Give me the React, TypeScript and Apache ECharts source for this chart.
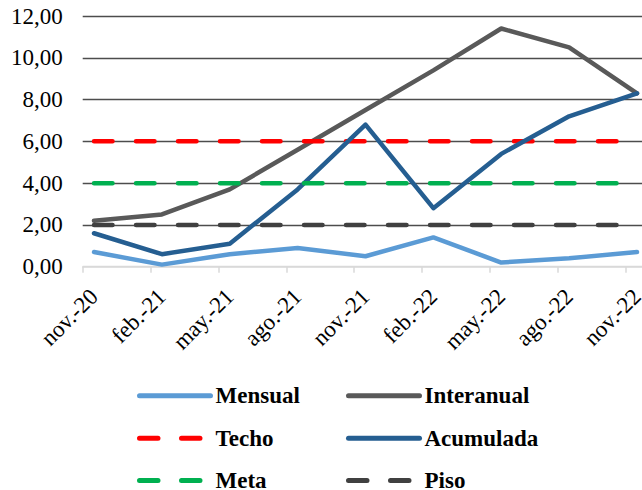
import React, { useEffect, useRef } from "react";
import * as echarts from "echarts";

const months = [
  "nov.-20", "dic.-20", "ene.-21", "feb.-21", "mar.-21", "abr.-21", "may.-21",
  "jun.-21", "jul.-21", "ago.-21", "sep.-21", "oct.-21", "nov.-21", "dic.-21",
  "ene.-22", "feb.-22", "mar.-22", "abr.-22", "may.-22", "jun.-22", "jul.-22",
  "ago.-22", "sep.-22", "oct.-22", "nov.-22",
];
const quarters = [
  "nov.-20", "feb.-21", "may.-21", "ago.-21", "nov.-21",
  "feb.-22", "may.-22", "ago.-22", "nov.-22",
];
const mensual = [0.7, 0.1, 0.6, 0.9, 0.5, 1.4, 0.2, 0.4, 0.7];
const interanual = [2.2, 2.5, 3.7, 5.6, 7.5, 9.4, 11.4, 10.5, 8.3];
const acumulada = [1.6, 0.6, 1.1, 3.7, 6.8, 2.8, 5.4, 7.2, 8.3];
const techo = [6, 6, 6, 6, 6, 6, 6, 6, 6];
const meta = [4, 4, 4, 4, 4, 4, 4, 4, 4];
const piso = [2, 2, 2, 2, 2, 2, 2, 2, 2];
const yTicks = { min: 0, max: 12, interval: 2 };

const toMonthly = (vals: number[]) =>
  months.map((m) => {
    const q = quarters.indexOf(m);
    return q >= 0 ? vals[q] : null;
  });

const FONT = "Liberation Serif";

export default function App() {
  const ref = useRef<HTMLDivElement>(null);
  useEffect(() => {
    if (!ref.current) return;
    const chart = echarts.init(ref.current, undefined, { renderer: "svg" });
    const lineSeries = (name: string, data: number[], color: string, dashed: boolean) => ({
      name,
      type: "line",
      data: toMonthly(data),
      connectNulls: true,
      symbol: "none",
      showSymbol: false,
      lineStyle: {
        color,
        width: 4.5,
        type: dashed ? [18.5, 23.5] : "solid",
        cap: "round",
        join: "round",
      },
      itemStyle: { color },
      emphasis: { disabled: true },
    });
    const legendText = {
      fontFamily: FONT,
      fontSize: 23,
      fontWeight: "bold",
      color: "#000",
      lineHeight: 20,
    };
    const legendItem = (name: string, left: number, top: number) => ({
      orient: "horizontal",
      left,
      top,
      padding: 0,
      itemWidth: 71,
      itemHeight: 12,
      textStyle: legendText,
      lineStyle: { width: 5, cap: "round" },
      itemStyle: { color: "transparent", borderColor: "transparent", borderWidth: 0, opacity: 0 },
      selectedMode: false,
      data: [name],
    });
    chart.setOption({
      animation: false,
      backgroundColor: "#fff",
      grid: {
        left: 82.7,
        right: -6.3,
        top: 16,
        height: 250.7,
        containLabel: false,
        outerBoundsMode: "none",
      },
      legend: [
        legendItem("Mensual", 137, 384.3),
        legendItem("Techo", 137, 426.7),
        legendItem("Meta", 137, 469),
        legendItem("Interanual", 346, 384.3),
        legendItem("Acumulada", 346, 426.7),
        legendItem("Piso", 346, 469),
      ],
      xAxis: {
        type: "category",
        data: months,
        boundaryGap: true,
        axisLine: { lineStyle: { color: "#d9d9d9", width: 1.5 } },
        axisTick: { show: true, interval: 2, length: 6, lineStyle: { color: "#d9d9d9", width: 1.5 } },
        axisLabel: {
          interval: 2,
          rotate: 45,
          margin: 26,
          fontFamily: FONT,
          fontSize: 23,
          color: "#000",
        },
        splitLine: { show: false },
      },
      yAxis: {
        type: "value",
        min: yTicks.min,
        max: yTicks.max,
        interval: yTicks.interval,
        axisLine: { show: false },
        axisTick: { show: false },
        axisLabel: {
          margin: 20,
          fontFamily: FONT,
          fontSize: 23,
          color: "#000",
          formatter: (v: number) => v.toFixed(2).replace(".", ","),
        },
        splitLine: {
          show: true,
          lineStyle: {
            color: ["#d9d9d9", "#4d4d4d", "#4d4d4d", "#4d4d4d", "#4d4d4d", "#4d4d4d", "#4d4d4d"],
            width: 1.3,
          },
        },
      },
      series: [
        lineSeries("Mensual", mensual, "#5b9bd5", false),
        lineSeries("Interanual", interanual, "#595959", false),
        lineSeries("Techo", techo, "#ff0000", true),
        lineSeries("Acumulada", acumulada, "#255e91", false),
        lineSeries("Meta", meta, "#00b050", true),
        lineSeries("Piso", piso, "#404040", true),
      ],
    });
    return () => chart.dispose();
  }, []);
  return (
    <div
      ref={ref}
      style={{ position: "fixed", left: 0, top: 0, width: 642, height: 490, background: "#fff" }}
    />
  );
}
